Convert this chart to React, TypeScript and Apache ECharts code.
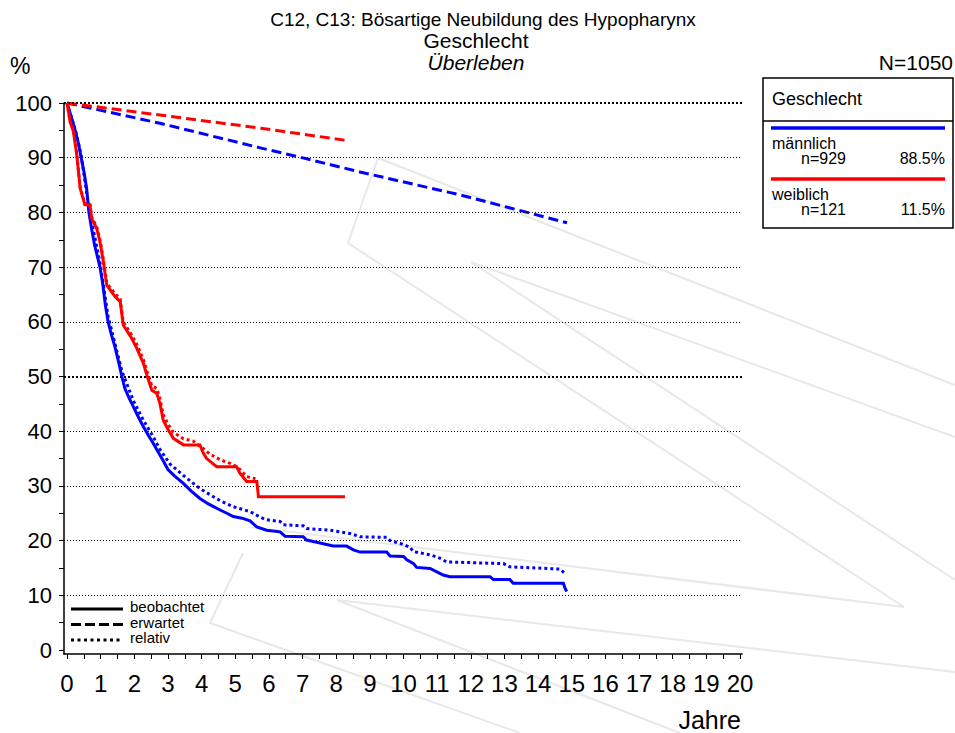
import React, { useEffect, useRef } from 'react';
import * as echarts from 'echarts';

// ---------- axis values ----------
const xLabelValues = [0, 1, 2, 3, 4, 5, 6, 7, 8, 9, 10, 11, 12, 13, 14, 15, 16, 17, 18, 19, 20];
const xTickValues = [0, 0.5, 1, 1.5, 2, 2.5, 3, 3.5, 4, 4.5, 5, 5.5, 6, 6.5, 7, 7.5, 8, 8.5, 9, 9.5, 10, 10.5, 11, 11.5, 12, 12.5, 13, 13.5, 14, 14.5, 15, 15.5, 16, 16.5, 17, 17.5, 18, 18.5, 19, 19.5, 20];
const yLabelValues = [0, 10, 20, 30, 40, 50, 60, 70, 80, 90, 100];
const yTickValues = [0, 5, 10, 15, 20, 25, 30, 35, 40, 45, 50, 55, 60, 65, 70, 75, 80, 85, 90, 95, 100];
const gridValues = [10, 20, 30, 40, 50, 60, 70, 80, 90, 100];

// ---------- männlich ----------
const maleObsT = [0, 0.05, 0.15, 0.25, 0.35, 0.42, 0.5, 0.58, 0.65, 0.73, 0.82, 0.9, 0.98, 1.06, 1.14, 1.22, 1.32, 1.42, 1.52, 1.63, 1.72, 1.85, 1.97, 2.12, 2.27, 2.42, 2.56, 2.7, 2.85, 3.0, 3.2, 3.45, 3.7, 3.95, 4.2, 4.55, 4.75, 4.94, 5.2, 5.44, 5.64, 5.93, 6.33, 6.48, 7.02, 7.12, 7.42, 7.91, 8.31, 8.51, 8.71, 9.5, 9.6, 10.0, 10.1, 10.3, 10.39, 10.79, 10.99, 11.18, 11.38, 12.57, 12.67, 13.16, 13.26, 14.75, 14.8, 14.85];
const maleObsV = [100, 99, 97, 94.8, 92.3, 90, 87.5, 84.5, 80, 77, 74, 72, 70, 67, 63, 60, 57.6, 55.5, 53, 50, 47.8, 46, 44.5, 42.6, 40.8, 39.2, 37.8, 36.3, 34.7, 33, 31.8, 30.5, 29, 27.7, 26.7, 25.6, 25, 24.4, 24.1, 23.6, 22.5, 21.9, 21.6, 20.8, 20.7, 20.1, 19.7, 19.0, 19.0, 18.3, 17.9, 17.9, 17.2, 17.1, 16.5, 15.8, 15.1, 14.9, 14.3, 13.7, 13.4, 13.4, 12.9, 12.9, 12.2, 12.2, 11.3, 10.7];

const maleRelT = [0, 0.25, 0.42, 0.65, 0.98, 1.22, 1.63, 1.97, 2.27, 2.56, 2.76, 3.06, 3.46, 3.95, 4.55, 4.94, 5.44, 5.74, 5.93, 6.33, 6.43, 7.02, 7.12, 7.82, 8.41, 8.71, 9.5, 9.6, 9.9, 10.19, 10.29, 10.79, 11.08, 11.28, 12.97, 13.16, 14.65, 14.8];
const maleRelV = [100, 95, 90.5, 80.8, 70.8, 61, 51, 45.6, 42, 39, 36.7, 34, 31.9, 29.5, 27.3, 26.2, 25.3, 24.3, 23.8, 23.5, 22.9, 22.7, 22.2, 21.9, 21.3, 20.7, 20.6, 20.0, 19.5, 18.8, 18.0, 17.4, 16.8, 16.1, 15.8, 15.2, 14.8, 14.0];

const maleExpT = [0, 2.76, 5.74, 6.92, 8.7, 11.68, 14.86];
const maleExpV = [100, 96.3, 91.8, 90.1, 87.4, 83.2, 78.1];

// ---------- weiblich ----------
const femObsT = [0, 0.09, 0.19, 0.29, 0.39, 0.53, 0.68, 0.73, 0.88, 0.98, 1.08, 1.18, 1.43, 1.58, 1.67, 1.92, 2.07, 2.27, 2.37, 2.52, 2.67, 2.76, 2.86, 3.01, 3.16, 3.46, 3.95, 4.05, 4.15, 4.45, 5.04, 5.14, 5.34, 5.64, 5.69, 8.26];
const femObsV = [100, 96.6, 94.8, 90.5, 84.4, 81.4, 81.4, 78.9, 77.1, 74.6, 71.0, 66.7, 64.6, 63.7, 59.4, 57.0, 55.2, 52.4, 50.3, 47.5, 46.9, 45.1, 42.0, 40.2, 38.7, 37.5, 37.5, 36.0, 35.0, 33.5, 33.5, 32.3, 30.8, 30.8, 28.0, 28.0];

const femRelT = [0, 0.09, 0.19, 0.29, 0.39, 0.53, 0.68, 0.73, 0.88, 0.98, 1.08, 1.18, 1.43, 1.58, 1.67, 1.92, 2.07, 2.27, 2.37, 2.52, 2.67, 2.76, 2.86, 3.01, 3.16, 3.46, 3.75, 4.05, 4.25, 4.55, 4.94, 5.14, 5.34, 5.6];
const femRelV = [100, 96.7, 95, 90.7, 84.6, 81.6, 81.6, 79.2, 77.4, 75, 71.4, 67.1, 65.1, 64.2, 60, 57.6, 55.9, 53.1, 51.1, 48.3, 47.8, 46, 43, 41.2, 39.8, 38.6, 38.2, 36.8, 35.8, 34.8, 33.9, 33.0, 31.7, 31.3];

const femExpT = [0, 2.76, 5.74, 8.26];
const femExpV = [100, 97.8, 95.4, 93.2];

// ---------- texts ----------
const titleLines = ['C12, C13: Bösartige Neubildung des Hypopharynx', 'Geschlecht', 'Überleben'];
const yAxisName = '%';
const xAxisName = 'Jahre';
const totalN = 'N=1050';
const legendTitle = 'Geschlecht';
const groupNames = ['männlich', 'weiblich'];
const groupCounts = ['n=929', 'n=121'];
const groupPcts = ['88.5%', '11.5%'];
const groupColors = ['#0000ff', '#ff0000'];
const styleNames = ['beobachtet', 'erwartet', 'relativ'];

const FONT = "'Liberation Sans', Arial, Helvetica, sans-serif";
const DASH = [10, 5];
const DOT = [3, 3];

function zip(t: number[], v: number[]) {
  return t.map((x, i) => [x, v[i]]);
}

export default function App() {
  const ref = useRef<HTMLDivElement>(null);
  useEffect(() => {
    if (!ref.current) return;
    const chart = echarts.init(ref.current, undefined, { renderer: 'svg' });

    const txt = (text: string, x: number, y: number, size: number, align = 'left', extra: any = {}) => ({
      type: 'text',
      x,
      y,
      z: 20,
      style: {
        text,
        fill: '#000',
        fontSize: size,
        fontFamily: FONT,
        align,
        textAlign: align,
        verticalAlign: 'middle',
        textVerticalAlign: 'middle',
        ...extra,
      },
    });

    const wm = (pts: number[][]) => ({
      type: 'polyline',
      z: 0,
      silent: true,
      shape: { points: pts },
      style: { stroke: '#e8e8e8', lineWidth: 2, fill: 'none' },
    });

    const graphics: any[] = [
      // faint watermark lines
      wm([[378, 158], [348, 243], [904, 607], [250, 527]]),
      wm([[378, 158], [955, 385]]),
      wm([[471, 262], [955, 437]]),
      wm([[471, 262], [955, 580]]),
      wm([[337, 600], [955, 672]]),
      wm([[337, 600], [680, 733]]),
      wm([[243, 553], [210, 623], [520, 733]]),
      // titles
      txt(titleLines[0], 483, 19, 19, 'center'),
      txt(titleLines[1], 476, 40, 21, 'center'),
      txt(titleLines[2], 476, 62, 21, 'center', { fontStyle: 'italic' }),
      txt(yAxisName, 10, 66, 23, 'left'),
      txt(totalN, 953, 62, 21, 'right'),
      txt(xAxisName, 741, 720, 25, 'right'),
      // legend box
      {
        type: 'rect',
        z: 15,
        shape: { x: 763, y: 78, width: 190, height: 150 },
        style: { fill: '#fff', stroke: '#000', lineWidth: 1.5 },
      },
      {
        type: 'line',
        z: 16,
        shape: { x1: 763, y1: 121, x2: 953, y2: 121 },
        style: { stroke: '#000', lineWidth: 1.5 },
      },
      txt(legendTitle, 772, 99, 18, 'left'),
    ];

    groupNames.forEach((name, i) => {
      const y0 = 128 + i * 51;
      graphics.push({
        type: 'line',
        z: 16,
        shape: { x1: 771, y1: y0, x2: 945, y2: y0 },
        style: { stroke: groupColors[i], lineWidth: 3.5 },
      });
      graphics.push(txt(name, 772, y0 + 15, 16, 'left'));
      graphics.push(txt(groupCounts[i], 801, y0 + 30, 16, 'left'));
      graphics.push(txt(groupPcts[i], 945, y0 + 30, 16, 'right'));
    });

    const dashes = [null, [10, 4], [3, 3.5]];
    styleNames.forEach((name, i) => {
      const y0 = 609 + i * 15.5;
      graphics.push({
        type: 'line',
        z: 16,
        shape: { x1: 71, y1: y0, x2: 123, y2: y0 },
        style: { stroke: '#000', lineWidth: 3, lineDash: dashes[i] || undefined },
      });
      graphics.push(txt(name, 130, y0 - 2.5, 15, 'left'));
    });

    const lineSeries = (name: string, data: number[][], color: string, type: any, z: number) => ({
      type: 'line',
      name,
      data,
      z,
      symbol: 'none',
      showSymbol: false,
      silent: true,
      lineStyle: { color, width: 3, type, cap: 'butt', join: 'miter' },
    });

    const option: any = {
      animation: false,
      backgroundColor: '#fff',
      grid: { left: 64, right: 213, top: 103, bottom: 79, containLabel: false },
      xAxis: {
        type: 'value',
        min: -0.09,
        max: 20.06,
        axisLine: { show: true, onZero: false, lineStyle: { color: '#000', width: 1.5 } },
        axisTick: { show: true, customValues: xTickValues, length: 5, lineStyle: { color: '#000', width: 1 } },
        axisLabel: { customValues: xLabelValues, fontSize: 24, color: '#000', fontFamily: FONT, margin: 17 },
        splitLine: { show: false },
      },
      yAxis: {
        type: 'value',
        min: -0.73,
        max: 100,
        axisLine: { show: true, onZero: false, lineStyle: { color: '#000', width: 1.5 } },
        axisTick: { show: true, customValues: yTickValues, length: 5, lineStyle: { color: '#000', width: 1 } },
        axisLabel: { customValues: yLabelValues, fontSize: 22, color: '#000', fontFamily: FONT, margin: 12 },
        splitLine: { show: false },
      },
      graphic: graphics,
      series: [
        {
          type: 'line',
          name: 'grid',
          data: [[0, 100]],
          symbol: 'none',
          z: 1,
          silent: true,
          lineStyle: { opacity: 0 },
          markLine: {
            silent: true,
            symbol: 'none',
            animation: false,
            label: { show: false },
            data: gridValues.map((v) => ({
              yAxis: v,
              lineStyle: {
                color: '#000',
                width: v % 50 === 0 ? 2 : 1,
                type: v % 50 === 0 ? [2, 2] : [1, 2],
              },
            })),
          },
        },
        lineSeries('männlich erwartet', zip(maleExpT, maleExpV), groupColors[0], DASH, 3),
        lineSeries('weiblich erwartet', zip(femExpT, femExpV), groupColors[1], DASH, 4),
        lineSeries('männlich relativ', zip(maleRelT, maleRelV), groupColors[0], DOT, 5),
        lineSeries('männlich beobachtet', zip(maleObsT, maleObsV), groupColors[0], 'solid', 6),
        lineSeries('weiblich relativ', zip(femRelT, femRelV), groupColors[1], DOT, 7),
        lineSeries('weiblich beobachtet', zip(femObsT, femObsV), groupColors[1], 'solid', 8),
      ],
    };
    chart.setOption(option);
    return () => chart.dispose();
  }, []);

  return (
    <div
      ref={ref}
      style={{ position: 'absolute', left: 0, top: 0, width: 955, height: 733, background: '#fff' }}
    />
  );
}
